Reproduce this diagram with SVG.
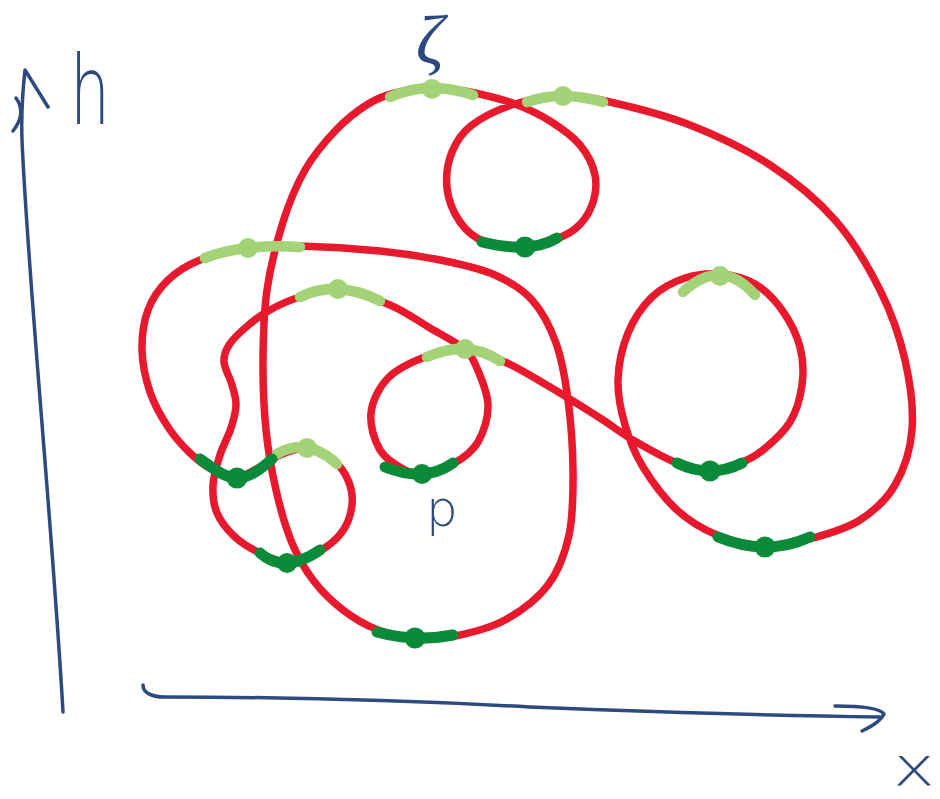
<svg xmlns="http://www.w3.org/2000/svg" width="940" height="799" viewBox="0 0 940 799">
<style>
.curve{fill:none;stroke:#e8192c;stroke-width:7.5;stroke-linecap:round;stroke-linejoin:round}
.lg{fill:none;stroke:#a3d277;stroke-width:10.5;stroke-linecap:round}
.dg{fill:none;stroke:#0b8a3a;stroke-width:11;stroke-linecap:round}
.lgd{fill:#a3d277}
.dgd{fill:#0b8a3a}
.ax{fill:none;stroke:#2d4a80;stroke-width:3.5;stroke-linecap:round;stroke-linejoin:round}
.lbl{fill:#2d4a80;font-family:"DejaVu Sans","Liberation Sans",sans-serif;font-weight:200}
</style>
<rect width="940" height="799" fill="#ffffff"/>
<g id="axes">
<path class="ax" d="M63,712 C52,520 28,280 22,140 C21,110 23,88 25,70 L48,107"/>
<path class="ax" d="M16,98 Q27,113 13,131"/>
<path class="ax" d="M143,685 C143,692 150,697 165,697 C300,697 400,700 530,707 C680,713 800,716 880,717"/>
<path class="ax" d="M835,706 C860,706 880,708 884,714 C880,722 870,727 862,731"/>
<text class="lbl" x="70" y="124" font-size="96" textLength="40" lengthAdjust="spacingAndGlyphs">h</text>
<text class="lbl" x="893" y="785" font-size="54" textLength="42" lengthAdjust="spacingAndGlyphs">x</text>
</g>
<g id="curve">
<path class="curve" d="M430,88 C443,88 461,90 475,93 S502.5,99.3 515,104 S539.2,114.2 550,121 S572.5,136 580,145 S593,165 595,175 S595.3,196 592,205 S582.8,222.7 575,229 S553.8,240.2 545,243 S532,246.2 522,246 S495.3,246 485,242 S466.3,231 460,222 S448.3,199.7 447,188 S447.8,162.5 452,152 S461.5,133 472,125 S499.8,108.8 515,104 S547.2,96.3 563,96 S588.8,97.2 610,102 S663.3,114.5 690,125 S745.8,149.2 770,165 S816.7,199.2 835,220 S868.3,266.7 880,290 S899.7,336.7 905,360 S913.7,409.2 912,430 S903.7,470 895,485 S873.7,511.2 860,520 S828.8,533.7 813,538 S781,546.5 765,546 S731.7,541 717,535 S689.3,521.3 677,510 S651.7,481.2 643,467 S629.2,439.5 625,425 S617.5,395.3 618,380 S622.3,346.8 628,333 S642.5,306.2 652,297 S673.7,281.8 685,278 S708.3,273 720,274 S744.7,278 755,284 S774.5,299.5 782,310 S796.7,334.5 800,347 S803.7,372.5 802,385 S796.5,411.2 790,422 S771.3,443.2 763,450 S748.8,459.7 740,463 S720.5,470 710,470 S689.8,468 677,463 S645.8,447.5 633,440 S613.8,426.8 600,418 S565.8,396.3 550,387 S519.2,368.3 505,362 S478.3,349.8 465,349 S437.8,352.2 425,357 S397,368.7 388,378 S372.3,401 371,413 S374.3,440.5 380,450 S397.8,466.2 405,470 S415,474 423,473 S443.8,469.2 453,464 S472.2,451.8 478,442 S488.3,417.7 488,405 S480.2,375.5 476,366 S470.7,354.3 463,348 S442.2,335.2 430,328 S405,311.3 390,305 S355,291.3 340,290 S312,293.5 300,297 S277.2,305.8 268,311 S251.5,322.3 245,328 S232.5,339.3 229,345 S223.5,355.3 224,362 S230,377.8 232,385 S236.2,397.8 236,405 S233.7,419.7 231,428 S223,445.5 220,455 S213.5,475.3 213,485 S213.3,504.3 217,513 S227.8,530.3 235,537 S251.3,548.8 260,553 S277.3,562.2 287,562 S308.8,557 318,552 S336.3,539.8 342,532 S351,513.7 352,505 S351.2,487.5 348,480 S339.8,465.3 333,460 S315.8,448.8 307,448 S288.2,451.7 280,455 S265.2,464.3 258,468 S244.5,476.7 237,477 S220.8,474 213,470 S197.5,460.2 190,453 S174.7,437.2 168,427 S154.3,404.8 150,392 S142.3,363.7 142,350 S143.7,321.7 148,310 S159.3,288.3 168,280 S186.7,265.3 200,260 S231.3,250.3 248,248 S278,245.5 300,246 S355.8,248.5 380,251 S425.8,257 445,261 S480.5,268.5 495,275 S521.8,288.7 532,300 S550,326.3 556,343 S565.2,378.8 568,400 S572.8,447.5 573,470 S573.2,515.8 569,535 S558.7,570.8 548,585 S520.5,611.5 505,620 S470,633 455,636 S427.8,639 415,638 S390,634.7 378,630 S353.8,618.3 343,610 S321.5,591.2 313,580 S298.2,558 292,543 S280.3,508.8 276,490 S268.2,451.7 266,430 S262.8,383.3 263,360 S263.7,313 267,290 S276.7,242 283,222 S296.2,185.3 305,170 S325.5,141 336,130 S358.2,110.2 368,104 S384.7,95.7 395,93 S417,88 430,88 Z"/>
</g>
<g id="maxima">
<g id="max-z"><path class="lg" d="M390,97 Q428.5,80 473,95"/><circle class="lgd" cx="432" cy="89" r="10"/></g>
<g id="max-2"><path class="lg" d="M527,102 Q561,90 603,102"/><circle class="lgd" cx="563" cy="96" r="10"/></g>
<g id="max-3"><path class="lg" d="M205,258 Q244,243 300,247"/><circle class="lgd" cx="248" cy="248" r="10"/></g>
<g id="max-4"><path class="lg" d="M300,297 Q336,279 380,301"/><circle class="lgd" cx="338" cy="289" r="10"/></g>
<g id="max-5"><path class="lg" d="M427,357 Q466.5,339 500,361"/><circle class="lgd" cx="465" cy="349" r="10"/></g>
<g id="max-6"><path class="lg" d="M277,454 Q307,436.5 337,464"/><circle class="lgd" cx="307" cy="448" r="10"/></g>
<g id="max-7"><path class="lg" d="M683,292 Q721,256.5 755,295"/><circle class="lgd" cx="720" cy="276" r="10"/></g>
</g>
<g id="minima">
<g id="min-1"><path class="dg" d="M482,242 Q530.5,254 557,238"/><circle class="dgd" cx="525" cy="247" r="10.5"/></g>
<g id="min-2"><path class="dg" d="M200,459 C215,470 226,478 237,478 C250,478 262,468 272,459"/><circle class="dgd" cx="237" cy="478" r="10.5"/></g>
<g id="min-3"><path class="dg" d="M260,553 Q284,574.5 320,550"/><circle class="dgd" cx="287" cy="563" r="10"/></g>
<g id="min-p"><path class="dg" d="M385,467 Q425,483 453,463"/><circle class="dgd" cx="422" cy="474" r="10"/></g>
<g id="min-5"><path class="dg" d="M377,632 Q415,642.5 453,635"/><circle class="dgd" cx="415" cy="638" r="10.5"/></g>
<g id="min-6"><path class="dg" d="M677,463 Q710.5,479 742,463"/><circle class="dgd" cx="710" cy="471" r="10.5"/></g>
<g id="min-7"><path class="dg" d="M718,537 Q766,557 810,537"/><circle class="dgd" cx="765" cy="547" r="10.5"/></g>
</g>
<g id="labels">
<text class="lbl" x="430" y="64" font-size="70" text-anchor="middle" style="font-family:'Liberation Serif',serif;font-style:italic;font-weight:normal">ζ</text>
<text class="lbl" x="426" y="526" font-size="50">p</text>
</g>
</svg>
